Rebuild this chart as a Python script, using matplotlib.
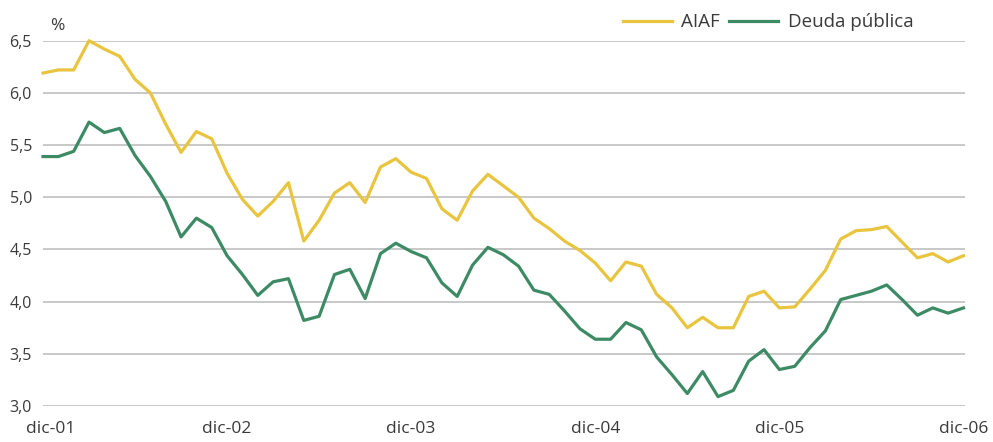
import numpy as np
import matplotlib
matplotlib.use('Agg')
import matplotlib.pyplot as plt
import matplotlib.transforms as mtransforms

# === DATOS (mensuales, dic-01 a dic-06) ===
aiaf = [6.19, 6.22, 6.22, 6.50, 6.42, 6.35, 6.13, 6.00, 5.70, 5.43,
        5.63, 5.56, 5.23, 4.98, 4.82, 4.96, 5.14, 4.58, 4.78, 5.04,
        5.14, 4.95, 5.29, 5.37, 5.24, 5.18, 4.89, 4.78, 5.06, 5.22,
        5.11, 5.00, 4.80, 4.70, 4.58, 4.49, 4.37, 4.20, 4.38, 4.34,
        4.07, 3.94, 3.75, 3.85, 3.75, 3.75, 4.05, 4.10, 3.94, 3.95,
        4.12, 4.30, 4.60, 4.68, 4.69, 4.72, 4.57, 4.42, 4.46, 4.38,
        4.44]
deuda = [5.39, 5.39, 5.44, 5.72, 5.62, 5.66, 5.40, 5.20, 4.96, 4.62,
         4.80, 4.71, 4.44, 4.26, 4.06, 4.19, 4.22, 3.82, 3.86, 4.26,
         4.31, 4.03, 4.46, 4.56, 4.48, 4.42, 4.18, 4.05, 4.35, 4.52,
         4.45, 4.34, 4.11, 4.07, 3.91, 3.74, 3.64, 3.64, 3.80, 3.73,
         3.47, 3.30, 3.12, 3.33, 3.09, 3.15, 3.43, 3.54, 3.35, 3.38,
         3.56, 3.72, 4.02, 4.06, 4.10, 4.16, 4.02, 3.87, 3.94, 3.89,
         3.94]
xtick_pos = [0, 12, 24, 36, 48, 60]
xtick_labels = ['dic-01', 'dic-02', 'dic-03', 'dic-04', 'dic-05', 'dic-06']
yticks = [3.0, 3.5, 4.0, 4.5, 5.0, 5.5, 6.0, 6.5]

# === ESTILO ===
plt.rcParams['font.family'] = ['Open Sans', 'DejaVu Sans']
plt.rcParams['font.size'] = 12
txt = '#3a3a3a'
amarillo = '#E9C43F'
verde = '#3D8B64'

fig = plt.figure(figsize=(9.93, 4.42), dpi=100)
ax = fig.add_axes([0.0433, 0.0814, 0.9285, 0.8265])

x = np.arange(len(aiaf))
ax.plot(x, aiaf, color=amarillo, lw=2.3, label='AIAF', clip_on=False, zorder=3)
ax.plot(x, deuda, color=verde, lw=2.3, label='Deuda pública', clip_on=False, zorder=3)

ax.set_xlim(0, 60.1)
ax.set_ylim(3.0, 6.5)
ax.set_yticks(yticks)
ax.set_yticklabels([f'{v:.1f}'.replace('.', ',') for v in yticks], color=txt, fontsize=11.5)
ax.set_xticks(xtick_pos)
ax.set_xticklabels(xtick_labels, color=txt, fontsize=12.5)
ax.tick_params(axis='both', length=0)
ax.tick_params(axis='y', pad=8)
ax.tick_params(axis='x', pad=11)
ax.grid(axis='y', color='#c4c4c4', lw=1.3)
ax.set_axisbelow(True)
for s in ax.spines.values():
    s.set_visible(False)

# la primera etiqueta va algo desplazada a la derecha
lab0 = ax.get_xticklabels()[0]
lab0.set_transform(lab0.get_transform() +
                   mtransforms.ScaledTranslation(8 / 100, 0, fig.dpi_scale_trans))

fig.text(57 / 993, 1 - 26 / 442, '%', color=txt, ha='center', va='center', fontsize=12.5)

ax.legend(loc='lower right', bbox_to_anchor=(0.952, 1.005), ncol=2, frameon=False,
          handlelength=2.6, handletextpad=0.5, columnspacing=0.5, borderaxespad=0,
          labelcolor=txt, fontsize=13.5)

fig.savefig('out.png', dpi=100)
